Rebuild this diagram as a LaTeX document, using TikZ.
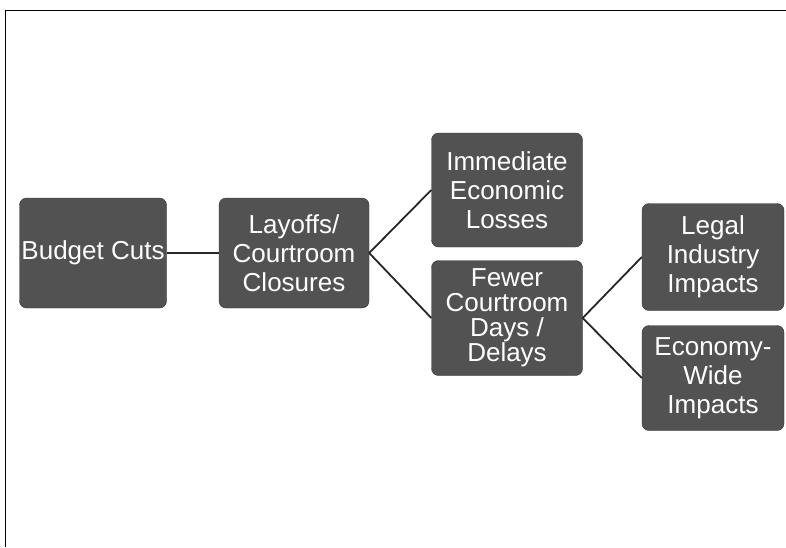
\documentclass[tikz,border=0pt]{standalone}
\usepackage{fontspec}
\setmainfont{Liberation Sans}

\tikzset{
    stage/.style={draw=black!80, fill=black!68, rounded corners=7pt, text=white,
        align=center, inner sep=0pt, font=\fontsize{26}{29}\selectfont},
    link/.style={black!85, line width=1.8pt}
}

\begin{document}
\begin{tikzpicture}[x=1pt, y=-1pt]
        \useasboundingbox (0,0) rectangle (786,547);

        % page frame
        \draw[black, line width=1pt] (786,10) -- (5,10) -- (5,547);

        \node[stage, minimum width=147pt, minimum height=110pt] (budget) at (93,253) {Budget Cuts};
        \node[stage, minimum width=150pt, minimum height=110pt] (layoffs) at (294,253) {Layoffs/\\Courtroom\\Closures};
        \node[stage, minimum width=151pt, minimum height=114pt] (losses) at (507,190) {Immediate\\Economic\\Losses};
        \node[stage, minimum width=151pt, minimum height=115pt, font=\fontsize{26}{25}\selectfont] (delays) at (507,318) {Fewer\\Courtroom\\Days /\\Delays};
        \node[stage, minimum width=142pt, minimum height=107pt] (legal) at (713,257) {Legal\\Industry\\Impacts};
        \node[stage, minimum width=142pt, minimum height=105pt] (economy) at (713,378) {Economy-\\Wide\\Impacts};

        \draw[link] (budget.east) -- (layoffs.west);
        \draw[link] (layoffs.east) -- (losses.west);
        \draw[link] (layoffs.east) -- (delays.west);
        \draw[link] (delays.east) -- (legal.west);
        \draw[link] (delays.east) -- (economy.west);
    \end{tikzpicture}
\end{document}
